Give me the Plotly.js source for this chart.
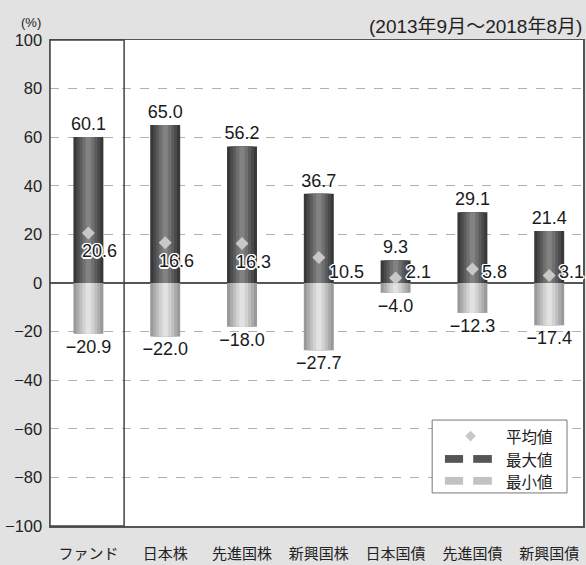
<!DOCTYPE html>
<html><head><meta charset="utf-8">
<script src="https://cdn.plot.ly/plotly-3.0.1.min.js"></script>
<style>html,body{margin:0;padding:0;background:#e2e2e2;} #chart{width:586px;height:565px;}</style>
</head><body><div id="chart"></div>
<script>
const categories = ['ファンド','日本株','先進国株','新興国株','日本国債','先進国債','新興国債'];
const maxValues = [60.1, 65.0, 56.2, 36.7, 9.3, 29.1, 21.4];
const minValues = [-20.9, -22.0, -18.0, -27.7, -4.0, -12.3, -17.4];
const avgValues = [20.6, 16.6, 16.3, 10.5, 2.1, 5.8, 3.1];
const yTickValues = [-100, -80, -60, -40, -20, 0, 20, 40, 60, 80, 100];
const legendLabels = ['平均値', '最大値', '最小値'];
const periodLabel = '(2013年9月～2018年8月)';
const unitLabel = '(%)';

const NUM_FONT = 'Liberation Sans, Arial, sans-serif';
const MIX_FONT = 'Liberation Sans, Noto Sans CJK JP, sans-serif';
const JP_FONT = 'Noto Sans CJK JP, sans-serif';
const fmt = v => (v < 0 ? '\u2212' : '') + Math.abs(v).toFixed(1);
const barWidth = 0.39;
const layers = [
  {f: 1.00, dark: '#383838', light: '#999999'},
  {f: 0.80, dark: '#4a4a4a', light: '#acacac'},
  {f: 0.60, dark: '#5c5c5c', light: '#bfbfbf'},
  {f: 0.40, dark: '#707070', light: '#d2d2d2'},
  {f: 0.18, dark: '#828282', light: '#e2e2e2'}
];

const traces = [];
layers.forEach((L, i) => {
  traces.push({
    type: 'bar', x: categories, y: maxValues, width: barWidth * L.f,
    marker: {color: L.dark, line: {width: 0}}, showlegend: false, hoverinfo: 'skip',
    text: i === 0 ? maxValues.map(fmt) : undefined,
    textposition: i === 0 ? 'outside' : 'none', constraintext: 'none',
    textfont: {family: NUM_FONT, size: 18, color: '#1a1a1a'},
    cliponaxis: false
  });
  traces.push({
    type: 'bar', x: categories, y: minValues, width: barWidth * L.f,
    marker: {color: L.light, line: {width: 0}}, showlegend: false, hoverinfo: 'skip',
    text: i === 0 ? minValues.map(fmt) : undefined,
    textposition: i === 0 ? 'outside' : 'none', constraintext: 'none',
    textfont: {family: NUM_FONT, size: 18, color: '#1a1a1a'},
    cliponaxis: false
  });
});
traces.push({
  type: 'scatter', mode: 'markers', x: categories, y: avgValues,
  marker: {symbol: 'diamond', size: 10, color: '#c8c8c8', line: {width: 0}},
  showlegend: false, hoverinfo: 'skip'
});

const shadow = '1.5px 0 0 #fff, -1.5px 0 0 #fff, 0 1.5px 0 #fff, 0 -1.5px 0 #fff, 1px 1px 0 #fff, -1px -1px 0 #fff, 1px -1px 0 #fff, -1px 1px 0 #fff';
const annotations = avgValues.map((v, i) => {
  const below = v - 7.5 >= 4.5;
  return {
    x: i, y: Math.max(v - 7.5, 4.5), xref: 'x', yref: 'y', text: fmt(v),
    showarrow: false, xanchor: 'left', yanchor: 'middle', xshift: below ? -8 : 8,
    font: {family: NUM_FONT, size: 18, color: '#1a1a1a', shadow: shadow}
  };
});
annotations.push({
  xref: 'paper', yref: 'paper', x: 0, y: 1, xanchor: 'right', yanchor: 'bottom',
  xshift: -7, yshift: 8, text: unitLabel, showarrow: false,
  font: {family: NUM_FONT, size: 13, color: '#222'}
});
annotations.push({
  xref: 'paper', yref: 'paper', x: 1, y: 1, xanchor: 'right', yanchor: 'bottom',
  xshift: 1, yshift: 1, text: periodLabel, showarrow: false,
  font: {family: MIX_FONT, size: 19, color: '#222'}
});

// custom legend
const lgY = [0.185, 0.138, 0.093];
legendLabels.forEach((t, i) => {
  annotations.push({
    xref: 'paper', yref: 'paper', x: 0.852, y: lgY[i], xanchor: 'left', yanchor: 'middle',
    text: t, showarrow: false, font: {family: JP_FONT, size: 15.5, color: '#222'}
  });
});

const shapes = [
  {type: 'rect', xref: 'x', yref: 'paper', x0: -0.5, x1: 0.465, y0: 0, y1: 1,
   line: {color: '#444', width: 1.5}, fillcolor: 'rgba(0,0,0,0)', layer: 'above'},
  {type: 'rect', xref: 'paper', yref: 'paper', x0: 0.717, x1: 0.970, y0: 0.068, y1: 0.218,
   line: {color: '#777', width: 1}, fillcolor: '#fff', layer: 'above'},
  {type: 'path', xref: 'paper', yref: 'paper',
   path: 'M 0.789 0.196 L 0.799 0.185 L 0.789 0.174 L 0.779 0.185 Z',
   fillcolor: '#c8c8c8', line: {width: 0}, layer: 'above'},
  {type: 'rect', xref: 'paper', yref: 'paper', x0: 0.741, x1: 0.775, y0: 0.130, y1: 0.146,
   fillcolor: '#555', line: {width: 0}, layer: 'above'},
  {type: 'rect', xref: 'paper', yref: 'paper', x0: 0.794, x1: 0.829, y0: 0.130, y1: 0.146,
   fillcolor: '#555', line: {width: 0}, layer: 'above'},
  {type: 'rect', xref: 'paper', yref: 'paper', x0: 0.741, x1: 0.775, y0: 0.085, y1: 0.101,
   fillcolor: '#c2c2c2', line: {width: 0}, layer: 'above'},
  {type: 'rect', xref: 'paper', yref: 'paper', x0: 0.794, x1: 0.829, y0: 0.085, y1: 0.101,
   fillcolor: '#c2c2c2', line: {width: 0}, layer: 'above'}
];

const layout = {
  width: 586, height: 565,
  margin: {l: 50, r: 3, t: 40, b: 39},
  paper_bgcolor: '#e2e2e2', plot_bgcolor: '#ffffff',
  barmode: 'overlay', showlegend: false,
  xaxis: {
    type: 'category', range: [-0.5, 6.44], showgrid: false, zeroline: false,
    showline: true, mirror: true, linecolor: '#555', linewidth: 1.5,
    ticks: '', ticklabelstandoff: 13,
    tickfont: {family: JP_FONT, size: 15, color: '#222'}, fixedrange: true
  },
  yaxis: {
    range: [-100, 100], tickvals: yTickValues, showgrid: true,
    gridcolor: '#b0b0b0', griddash: 'dash', gridwidth: 1,
    zeroline: true, zerolinecolor: '#555', zerolinewidth: 1.5,
    showline: true, mirror: true, linecolor: '#555', linewidth: 1.5,
    ticks: '', ticklabelstandoff: 3,
    tickfont: {family: NUM_FONT, size: 16.5, color: '#222'}, fixedrange: true
  },
  annotations: annotations,
  shapes: shapes
};

Plotly.newPlot('chart', traces, layout, {displayModeBar: false, staticPlot: true});
</script>
</body></html>
